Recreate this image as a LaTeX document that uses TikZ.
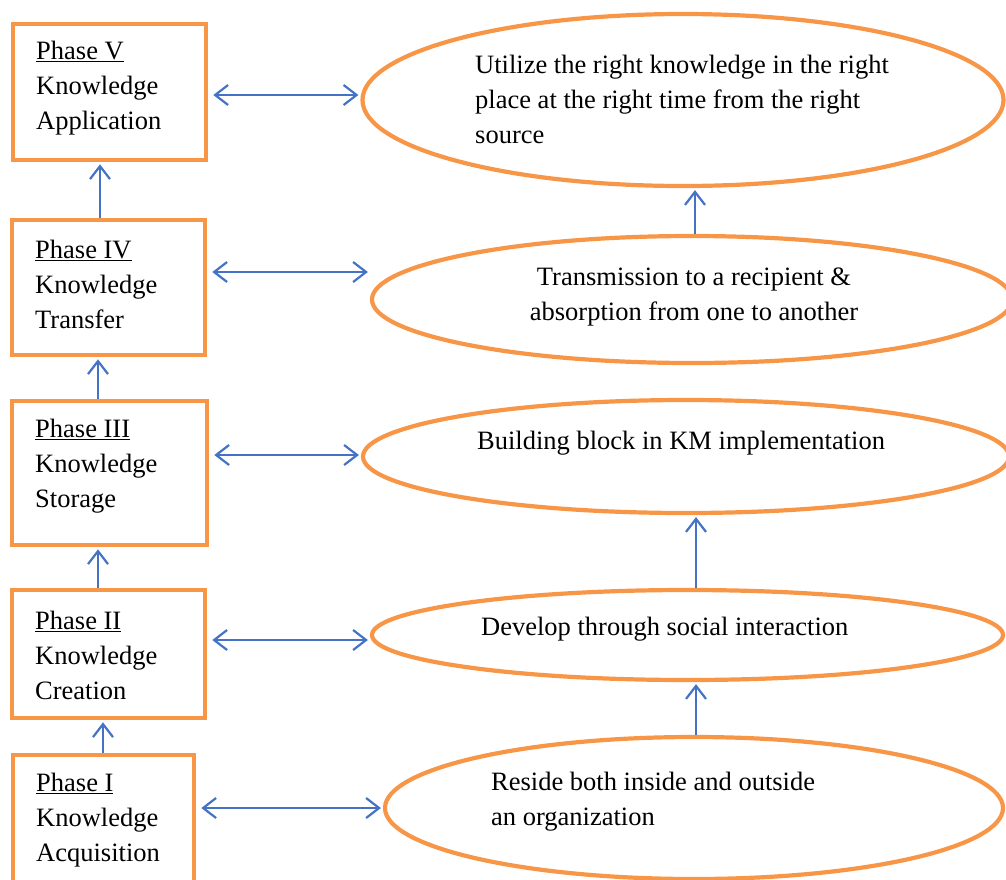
\documentclass[tikz,border=0pt]{standalone}
\usepackage{fontspec}
\setmainfont{Liberation Serif}
\usetikzlibrary{arrows.meta,shapes.geometric}
\definecolor{kmorange}{RGB}{247,150,70}
\definecolor{kmblue}{RGB}{68,114,196}

\begin{document}
\begin{tikzpicture}[x=1pt,y=-1pt,
  phasebox/.style={draw=kmorange, line width=4.6pt, rectangle, inner sep=0pt},
  idea/.style={draw=kmorange, line width=4.2pt, ellipse, inner sep=0pt},
  kmtext/.style={font=\fontsize{26.5}{35}\selectfont, align=left, inner sep=0pt},
  barb/.tip={Straight Barb[length=13pt,width=20pt,line width=2.2pt]},
  link/.style={draw=kmblue, line width=2.2pt, -barb, shorten >=2pt},
  biarrow/.style={draw=kmblue, line width=2.2pt, barb-barb, shorten <=5pt, shorten >=2pt}]
\useasboundingbox (0,0) rectangle (1006,879);

% phase boxes
\node[phasebox, minimum width=193pt, minimum height=136pt] (p5) at (109.5,92) {};
\node[phasebox, minimum width=193pt, minimum height=135pt] (p4) at (108.5,287.5) {};
\node[phasebox, minimum width=195pt, minimum height=144pt] (p3) at (109.5,473) {};
\node[phasebox, minimum width=193pt, minimum height=128pt] (p2) at (108.5,654) {};
\node[phasebox, minimum width=181pt, minimum height=130pt] (p1) at (103.5,820) {};

\node[kmtext, anchor=west] (p5t) at (36,88) {\underline{Phase V}\\Knowledge\\Application};
\node[kmtext, anchor=west] (p4t) at (35,284) {\underline{Phase IV}\\Knowledge\\Transfer};
\node[kmtext, anchor=west] (p3t) at (35,466) {\underline{Phase III}\\Knowledge\\Storage};
\node[kmtext, anchor=west] (p2t) at (35,655) {\underline{Phase II}\\Knowledge\\Creation};
\node[kmtext, anchor=west] (p1t) at (36,820) {\underline{Phase I}\\Knowledge\\Acquisition};

% descriptions
\node[idea, minimum width=641pt, minimum height=172pt] (e5) at (683,100) {};
\node[idea, minimum width=640pt, minimum height=127pt] (e4) at (692,299.5) {};
\node[idea, minimum width=646pt, minimum height=113pt] (e3) at (686,456.5) {};
\node[idea, minimum width=631pt, minimum height=90pt] (e2) at (687.5,635) {};
\node[idea, minimum width=618pt, minimum height=142pt] (e1) at (694,808) {};

\node[kmtext, anchor=west] (e5t) at (475,99) {Utilize the right knowledge in the right\\place at the right time from the right\\source};
\node[kmtext, align=center] (e4t) at (694,297) {Transmission to a recipient \&\\absorption from one to another};
\node[kmtext, anchor=west] (e3t) at (477,443) {Building block in KM implementation};
\node[kmtext, anchor=west] (e2t) at (481,629) {Develop through social interaction};
\node[kmtext, anchor=west] (e1t) at (491,802) {Reside both inside and outside\\an organization};

% phase sequence
\draw[link] (p1.north -| 103,0) -- (p2.south -| 103,0);
\draw[link] (p2.north -| 98,0) -- (p3.south -| 98,0);
\draw[link] (p3.north -| 98,0) -- (p4.south -| 98,0);
\draw[link] (p4.north -| 100,0) -- (p5.south -| 100,0);

% description sequence
\draw[link] (e1.north -| 696,0) -- (e2.south -| 696,0);
\draw[link] (e2.north -| 696,0) -- (e3.south -| 696,0);
\draw[link] (e4.north -| 695,0) -- (e5.south -| 695,0);

% phase to description
\draw[biarrow] (p5.east |- 0,95) -- (e5.west |- 0,95);
\draw[biarrow] (p4.east |- 0,272) -- (e4.west |- 0,272);
\draw[biarrow] (p3.east |- 0,455) -- (e3.west |- 0,455);
\draw[biarrow] (p2.east |- 0,640) -- (e2.west |- 0,640);
\draw[biarrow] (p1.east |- 0,808) -- (e1.west |- 0,808);
\end{tikzpicture}
\end{document}
